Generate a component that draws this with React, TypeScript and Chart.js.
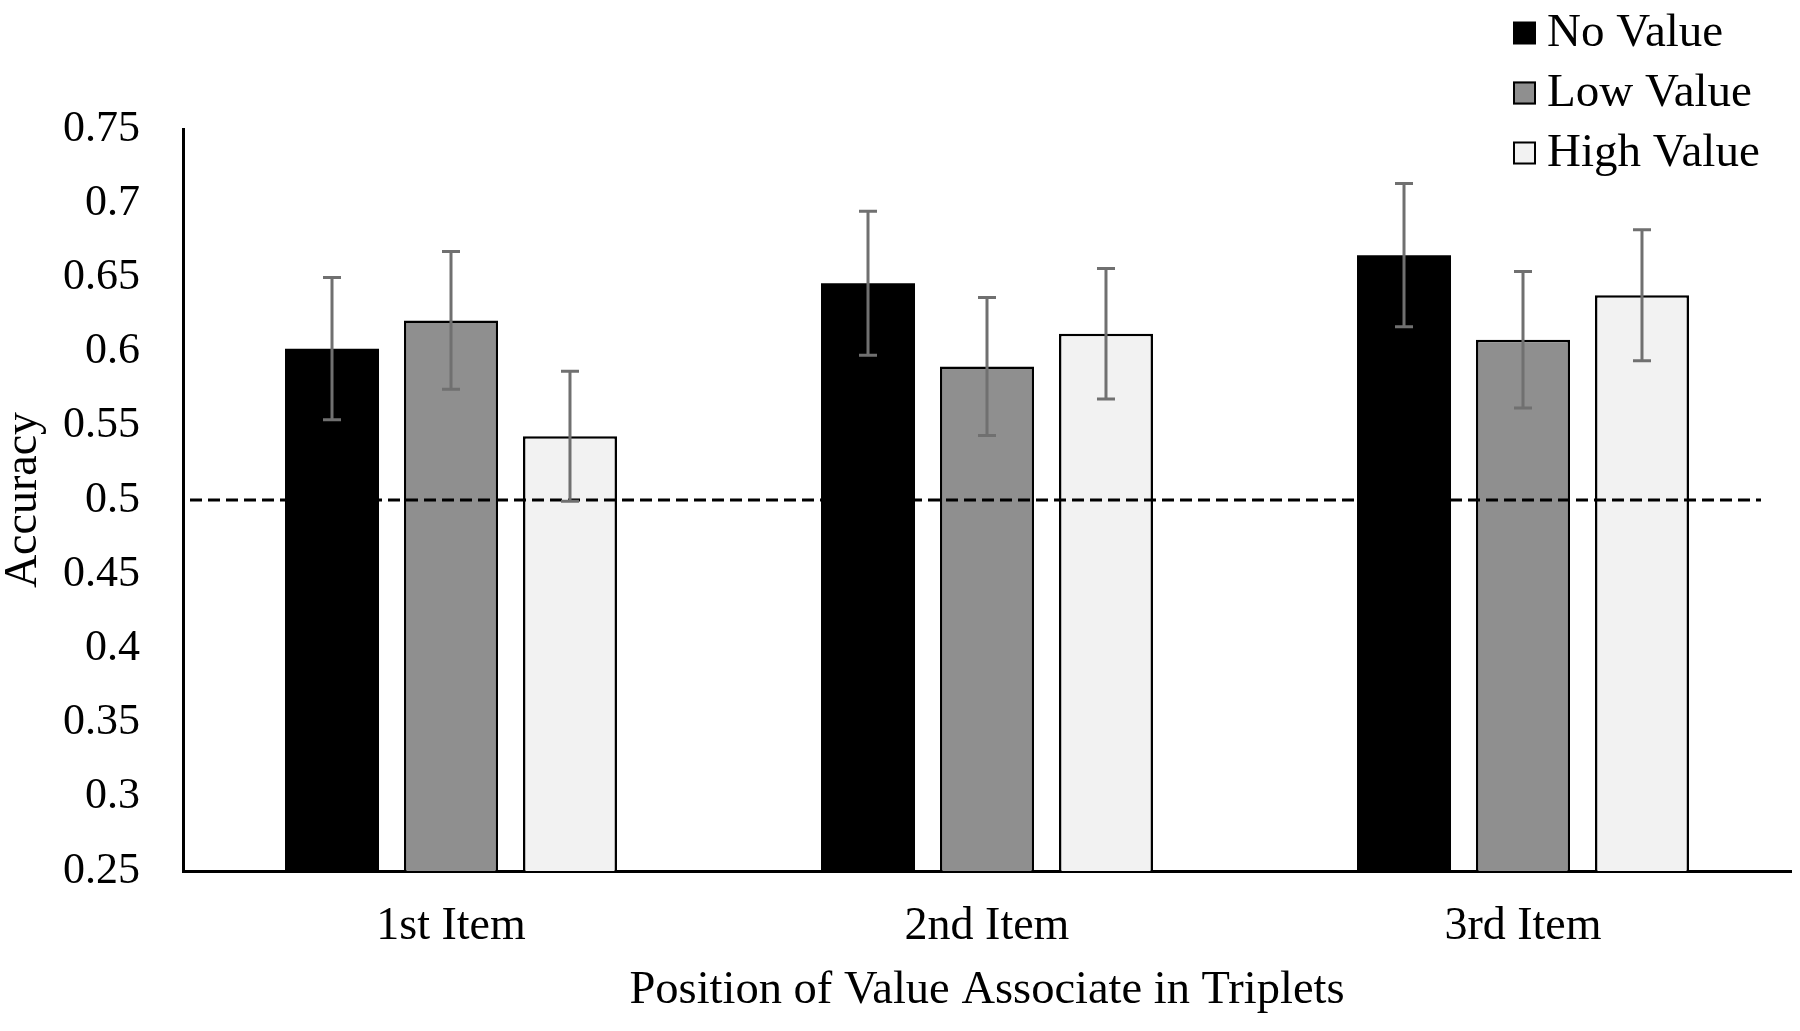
import { useEffect, useRef } from 'react';
import { Chart, registerables, Plugin } from 'chart.js';

Chart.register(...registerables);

const categories = ['1st Item', '2nd Item', '3rd Item'];
const seriesNames = ['No Value', 'Low Value', 'High Value'];

const noValue = [0.602, 0.646, 0.665];
const lowValue = [0.621, 0.590, 0.608];
const highValue = [0.543, 0.612, 0.638];

const noValueErr = [0.048, 0.0485, 0.0483];
const lowValueErr = [0.0464, 0.0465, 0.046];
const highValueErr = [0.0438, 0.044, 0.0441];

const yTicks = [0.25, 0.3, 0.35, 0.4, 0.45, 0.5, 0.55, 0.6, 0.65, 0.7, 0.75];
const chanceLevel = 0.5;

const FONT = '"Liberation Serif", "Times New Roman", serif';

const errors = [noValueErr, lowValueErr, highValueErr];

// dashed chance line, then error bars on top of the bars
const overlayPlugin: Plugin<'bar'> = {
  id: 'overlay',
  afterDatasetsDraw(chart) {
    const { ctx, chartArea, scales } = chart;
    const y = scales.y;

    ctx.save();
    ctx.strokeStyle = '#000';
    ctx.lineWidth = 3;
    ctx.setLineDash([12, 6]);
    const yLine = y.getPixelForValue(chanceLevel);
    ctx.beginPath();
    ctx.moveTo(chartArea.left + 7, yLine);
    ctx.lineTo(chartArea.right - 30, yLine);
    ctx.stroke();
    ctx.restore();

    ctx.save();
    ctx.strokeStyle = '#707070';
    ctx.lineWidth = 3;
    chart.data.datasets.forEach((ds, i) => {
      const meta = chart.getDatasetMeta(i);
      meta.data.forEach((bar, j) => {
        const v = ds.data[j] as number;
        const e = errors[i][j];
        const top = y.getPixelForValue(v + e);
        const bottom = y.getPixelForValue(v - e);
        const x = bar.x;
        ctx.beginPath();
        ctx.moveTo(x, top);
        ctx.lineTo(x, bottom);
        ctx.moveTo(x - 9, top);
        ctx.lineTo(x + 9, top);
        ctx.moveTo(x - 9, bottom);
        ctx.lineTo(x + 9, bottom);
        ctx.stroke();
      });
    });
    ctx.restore();
  },
};

// vertical legend in the top right corner
const legendPlugin: Plugin<'bar'> = {
  id: 'cornerLegend',
  afterDraw(chart) {
    const { ctx } = chart;
    const size = 23;
    const x0 = 1513;
    ctx.save();
    ctx.font = `47px ${FONT}`;
    ctx.textBaseline = 'middle';
    ctx.textAlign = 'left';
    chart.data.datasets.forEach((ds, i) => {
      const cy = 33 + i * 60;
      ctx.fillStyle = ds.backgroundColor as string;
      ctx.fillRect(x0, cy - size / 2, size, size);
      if (i > 0) {
        ctx.strokeStyle = '#000';
        ctx.lineWidth = 2;
        ctx.strokeRect(x0 + 1, cy - size / 2 + 1, size - 2, size - 2);
      }
      ctx.fillStyle = '#000';
      ctx.fillText(ds.label as string, 1547, cy + 1);
    });
    ctx.restore();
  },
};

export default function App() {
  const canvasRef = useRef<HTMLCanvasElement>(null);
  const chartRef = useRef<Chart | null>(null);

  useEffect(() => {
    document.body.style.margin = '0';
    if (!canvasRef.current) return;
    if (chartRef.current) chartRef.current.destroy();

    const ctx = canvasRef.current.getContext('2d');
    if (!ctx) return;

    const common = {
      borderColor: '#000',
      categoryPercentage: 0.666,
      barPercentage: 0.79,
    };

    chartRef.current = new Chart(ctx, {
      type: 'bar',
      data: {
        labels: categories,
        datasets: [
          { ...common, label: seriesNames[0], data: noValue, backgroundColor: '#000000', borderWidth: 0 },
          { ...common, label: seriesNames[1], data: lowValue, backgroundColor: '#8f8f8f', borderWidth: 2.5 },
          { ...common, label: seriesNames[2], data: highValue, backgroundColor: '#f2f2f2', borderWidth: 2.5 },
        ],
      },
      plugins: [overlayPlugin, legendPlugin],
      options: {
        animation: false,
        responsive: true,
        maintainAspectRatio: false,
        layout: { padding: { top: 129, right: 9, bottom: 0, left: 0 } },
        plugins: {
          legend: { display: false },
          tooltip: { enabled: false },
        },
        scales: {
          x: {
            grid: { display: false, drawTicks: false },
            border: { display: true, color: '#000', width: 3 },
            ticks: {
              color: '#000',
              padding: 28,
              font: { family: FONT, size: 46 },
            },
            title: {
              display: true,
              text: 'Position of Value Associate in Triplets',
              color: '#000',
              font: { family: FONT, size: 46.5 },
              padding: { top: 0, bottom: 12 },
            },
            afterFit: (scale) => {
              scale.height = 160;
            },
          },
          y: {
            min: 0.25,
            max: 0.75,
            grid: { display: false, drawTicks: false },
            border: { display: true, color: '#000', width: 3 },
            afterBuildTicks: (scale) => {
              scale.ticks = yTicks.map((v) => ({ value: v }));
            },
            ticks: {
              color: '#000',
              padding: 43,
              font: { family: FONT, size: 44 },
              callback: (v) => String(Number(Number(v).toFixed(2))),
            },
            title: {
              display: true,
              text: 'Accuracy',
              color: '#000',
              font: { family: FONT, size: 46, lineHeight: 1 },
              padding: { top: 1, bottom: 0 },
            },
            afterFit: (scale) => {
              scale.width = 183;
            },
          },
        },
      },
    });

    return () => {
      if (chartRef.current) {
        chartRef.current.destroy();
        chartRef.current = null;
      }
    };
  }, []);

  return (
    <div style={{ width: '1800px', height: '1031px', position: 'relative' }}>
      <canvas ref={canvasRef} />
    </div>
  );
}
